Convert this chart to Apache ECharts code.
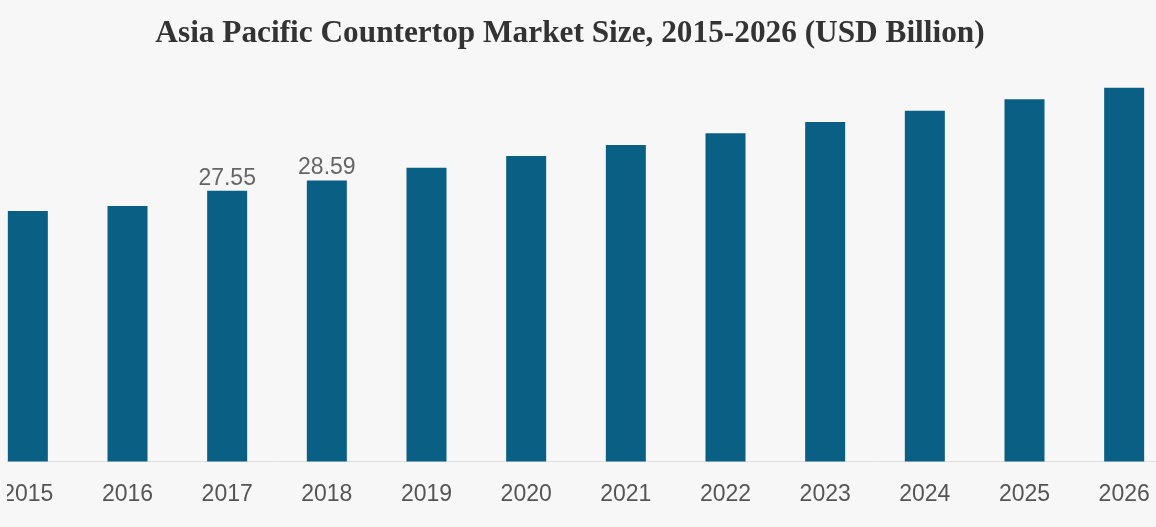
<!DOCTYPE html>
<html>
<head>
<meta charset="utf-8">
<script src="https://cdn.jsdelivr.net/npm/echarts@6/dist/echarts.min.js"></script>
<style>
html,body{margin:0;padding:0;background:#f7f7f7;overflow:hidden;width:1156px;height:527px;}
#c{width:1196px;height:527px;margin-left:-22px;}
</style>
</head>
<body>
<div id="c"></div>
<script>
const years = ['2015','2016','2017','2018','2019','2020','2021','2022','2023','2024','2025','2026'];
const marketSize = [25.50, 26.01, 27.55, 28.59, 29.90, 31.09, 32.21, 33.40, 34.55, 35.70, 36.86, 38.05];
const labelledYears = ['2017','2018'];

const chart = echarts.init(document.getElementById('c'));
chart.setOption({
  backgroundColor: '#f7f7f7',
  animation: false,
  title: {
    text: 'Asia Pacific Countertop Market Size, 2015-2026 (USD Billion)',
    left: 587,
    top: 13,
    textAlign: 'center',
    textStyle: {
      fontFamily: 'Liberation Serif',
      fontWeight: 'bold',
      fontSize: 31.3,
      color: '#333333'
    }
  },
  graphic: [{
    type: 'rect',
    left: 0,
    top: 0,
    z: 100,
    shape: { width: 29, height: 527 },
    style: { fill: '#f7f7f7' },
    silent: true
  }],
  grid: { left: 0, right: 0, top: 68.5, bottom: 65.5, containLabel: false },
  xAxis: {
    type: 'category',
    data: years,
    boundaryGap: true,
    axisLine: { show: true, lineStyle: { color: '#e0e0e0', width: 1 } },
    axisTick: { show: false },
    axisLabel: {
      color: '#555555',
      fontFamily: 'Liberation Sans',
      fontSize: 23,
      margin: 22
    }
  },
  yAxis: {
    type: 'value',
    min: 0,
    max: 40,
    show: false,
    splitLine: { show: false }
  },
  series: [{
    type: 'bar',
    data: marketSize.map((v, i) => ({
      value: v,
      label: { show: labelledYears.includes(years[i]) }
    })),
    barWidth: 40,
    itemStyle: { color: '#0a5f84' },
    label: {
      position: 'top',
      distance: 1,
      color: '#666666',
      fontFamily: 'Liberation Sans',
      fontSize: 23,
      formatter: p => p.value.toFixed(2)
    }
  }]
});
</script>
</body>
</html>
